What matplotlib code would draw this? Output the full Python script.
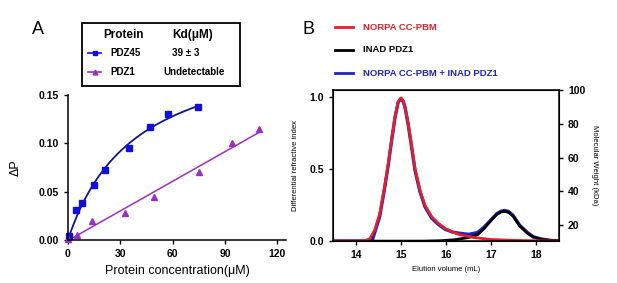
import numpy as np
import matplotlib
matplotlib.use("Agg")
import matplotlib.pyplot as plt
from matplotlib.lines import Line2D
from matplotlib.patches import Rectangle

plt.rcParams['font.family'] = ['Liberation Sans', 'DejaVu Sans']
plt.rcParams['font.weight'] = 'bold'

# --- Panel A: fluorescence polarization binding ---
pdz45_x = [0.5, 4.8, 8.1, 15.0, 21.3, 35.3, 47.2, 57.6, 74.3]
pdz45_y = [0.004, 0.031, 0.038, 0.057, 0.072, 0.095, 0.117, 0.130, 0.138]
pdz1_x = [0.0, 5.0, 13.8, 32.8, 49.2, 75.1, 94.1, 109.6]
pdz1_y = [0.001, 0.005, 0.020, 0.028, 0.044, 0.070, 0.100, 0.115]
kd_pdz45 = 39.0

# --- Panel B: SEC-MALS traces ---
norpa_x = [13.5, 14.0, 14.2, 14.31, 14.42, 14.53, 14.64, 14.72, 14.79, 14.87,
           14.94, 15.0, 15.05, 15.09, 15.16, 15.24, 15.31, 15.42, 15.53, 15.68,
           15.83, 15.98, 16.15, 16.29, 16.59, 16.96, 17.3, 17.7, 18.1, 18.5]
norpa_y = [0, 0.0, 0.004, 0.015, 0.077, 0.19, 0.38, 0.54, 0.70, 0.865,
           0.97, 0.995, 0.975, 0.935, 0.82, 0.656, 0.506, 0.355, 0.25, 0.17,
           0.123, 0.088, 0.062, 0.046, 0.026, 0.012, 0.007, 0.004, 0.002, 0.0]
inad_x = [13.5, 15.5, 15.9, 16.2, 16.5, 16.7, 16.85, 17.0, 17.12, 17.22, 17.3,
          17.38, 17.48, 17.63, 17.8, 17.93, 18.1, 18.3, 18.5]
inad_y = [0, 0, 0.003, 0.01, 0.025, 0.045, 0.09, 0.145, 0.185, 0.203, 0.207,
          0.2, 0.175, 0.105, 0.055, 0.028, 0.013, 0.005, 0.002]
mix_x = [13.5, 14.0, 14.36, 14.45, 14.53, 14.64, 14.72, 14.79, 14.87, 14.94,
         15.0, 15.05, 15.09, 15.16, 15.24, 15.31, 15.42, 15.53, 15.68, 15.83,
         15.98, 16.15, 16.29, 16.5, 16.7, 16.85, 17.0, 17.12, 17.22, 17.3,
         17.38, 17.48, 17.63, 17.8, 17.93, 18.1, 18.3, 18.5]
mix_y = [0, 0, 0.0, 0.09, 0.17, 0.37, 0.53, 0.69, 0.86, 0.965,
         0.99, 0.97, 0.93, 0.81, 0.645, 0.495, 0.345, 0.24, 0.16, 0.115,
         0.082, 0.062, 0.055, 0.047, 0.06, 0.10, 0.15, 0.19, 0.208, 0.213,
         0.206, 0.18, 0.11, 0.06, 0.03, 0.015, 0.005, 0.0]

BLUE_PT = '#1010d8'
BLUE_LN = '#15158a'
PURPLE = '#9a30c0'
RED = '#e0202a'
NAVY = '#2020c8'

fig = plt.figure(figsize=(6.17, 2.83), dpi=100)

# ---------------- Panel A ----------------
axA = fig.add_axes([0.110, 0.152, 0.3535, 0.512])
# one-site binding fit with the reported Kd, Bmax by least squares
px = np.array(pdz45_x)
py = np.array(pdz45_y)
f = px / (kd_pdz45 + px)
bmax = np.sum(py * f) / np.sum(f * f)
xs = np.linspace(0, max(pdz45_x), 200)
axA.plot(xs, bmax * xs / (kd_pdz45 + xs), color=BLUE_LN, lw=1.3)
slope, icpt = np.polyfit(pdz1_x, pdz1_y, 1)
xl = np.array([0, max(pdz1_x)])
axA.plot(xl, slope * xl + icpt, color=PURPLE, lw=1.1)
axA.plot(pdz45_x, pdz45_y, 's', color=BLUE_PT, ms=4.2, clip_on=False)
axA.plot(pdz1_x, pdz1_y, '^', color=PURPLE, ms=4.0, clip_on=False)

axA.set_xlim(0, 125)
axA.set_ylim(0, 0.15)
axA.set_xticks([0, 30, 60, 90, 120])
axA.set_yticks([0, 0.05, 0.10, 0.15])
axA.set_yticklabels(['0.00', '0.05', '0.10', '0.15'])
axA.spines['top'].set_visible(False)
axA.spines['right'].set_visible(False)
axA.tick_params(direction='out', length=3, width=1, labelsize=7.5)
for s in ['left', 'bottom']:
    axA.spines[s].set_linewidth(1.1)
axA.set_xlabel('Protein concentration(\u03bcM)', fontsize=9, labelpad=4)
axA.set_ylabel('\u0394P', fontsize=9, labelpad=12)
fig.text(38 / 617, 1 - 30 / 283, 'A', fontsize=13, weight='normal', va='center', ha='center')

# legend table for panel A
fig.patches.append(Rectangle((82 / 617, 1 - 86 / 283), 158 / 617, 63 / 283,
                             transform=fig.transFigure, fill=False, lw=1.3, ec='black'))
fig.text(123 / 617, 1 - 35 / 283, 'Protein', fontsize=8.5, ha='center', va='center')
fig.text(193 / 617, 1 - 35 / 283, 'Kd(\u03bcM)', fontsize=8.5, ha='center', va='center')
for yy, col, mk, name, kd, kx in [(53, BLUE_PT, 's', 'PDZ45', '39 \u00b1 3', 172),
                                   (72, PURPLE, '^', 'PDZ1', 'Undetectable', 163)]:
    yf = 1 - yy / 283
    fig.lines.append(Line2D([88 / 617, 101 / 617], [yf, yf], transform=fig.transFigure,
                            color=col, lw=1.2))
    fig.lines.append(Line2D([94.5 / 617], [yf], transform=fig.transFigure,
                            color=col, marker=mk, ms=3.5, lw=0))
    fig.text(110 / 617, yf, name, fontsize=7, va='center')
    fig.text(kx / 617, yf, kd, fontsize=7, va='center')

# ---------------- Panel B ----------------
axB = fig.add_axes([0.540, 0.148, 0.366, 0.534])
axB.plot(mix_x, mix_y, color=NAVY, lw=2.4, solid_capstyle='round', solid_joinstyle='round')
axB.plot(inad_x, inad_y, color='black', lw=2.0, solid_capstyle='round', solid_joinstyle='round')
axB.plot(norpa_x, norpa_y, color=RED, lw=2.0, solid_capstyle='round', solid_joinstyle='round')
axB.set_xlim(13.5, 18.5)
axB.set_ylim(0, 1.05)
axB.set_xticks([14, 15, 16, 17, 18])
axB.set_yticks([0.0, 0.5, 1.0])
axB.set_yticklabels(['0.0', '0.5', '1.0'])
axB.tick_params(direction='out', length=3, width=1, labelsize=7.5)
for s in axB.spines.values():
    s.set_linewidth(1.1)
axB.set_xlabel('Elution volume (mL)', fontsize=5.5, labelpad=4)
axB.set_ylabel('Differential refractive index', fontsize=5.5, labelpad=8)

axB2 = axB.twinx()
axB2.set_ylim(10.5, 100)
axB2.set_yticks([20, 40, 60, 80, 100])
axB2.tick_params(direction='out', length=3, width=1, labelsize=7.5)
axB2.set_ylabel('Molecular Weight (kDa)', fontsize=5.5, rotation=270, labelpad=9)
fig.text(308 / 617, 1 - 30 / 283, 'B', fontsize=13, weight='normal', va='center', ha='center')

for yy, col, name in [(27, RED, 'NORPA CC-PBM'), (50, 'black', 'INAD PDZ1'),
                      (73, NAVY, 'NORPA CC-PBM + INAD PDZ1')]:
    yf = 1 - yy / 283
    fig.lines.append(Line2D([335 / 617, 353 / 617], [yf, yf], transform=fig.transFigure,
                            color=col, lw=2.0))
    fig.text(363 / 617, yf, name, fontsize=6.8, color=col, va='center')

fig.savefig('out.png', dpi=100)
